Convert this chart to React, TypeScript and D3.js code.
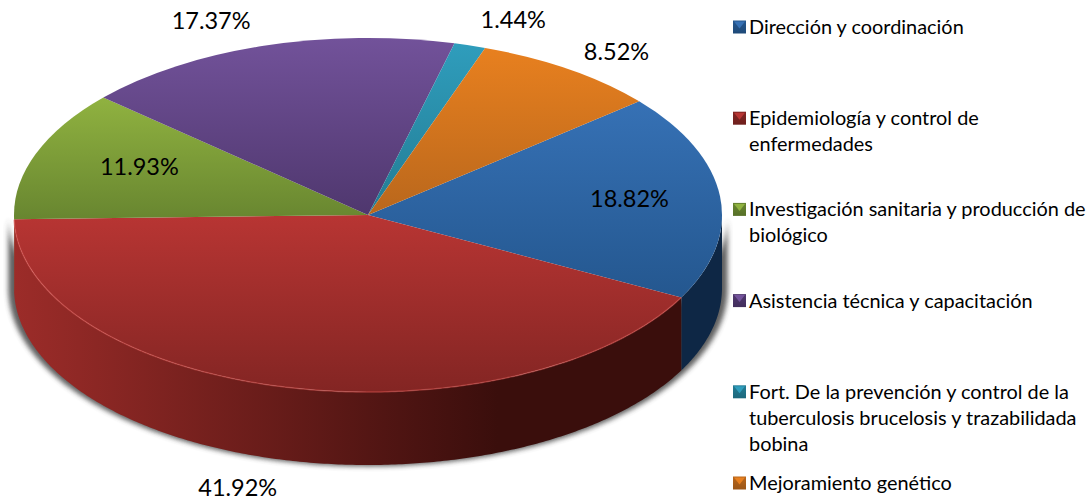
import React from 'react';
import * as d3 from 'd3';

const categories = [
  ['Dirección y coordinación'],
  ['Epidemiología y control de', 'enfermedades'],
  ['Investigación sanitaria y producción de', 'biológico'],
  ['Asistencia técnica y capacitación'],
  ['Fort. De la prevención y control de la', 'tuberculosis brucelosis y trazabilidada', 'bobina'],
  ['Mejoramiento genético'],
];
const values = [18.82, 41.92, 11.93, 17.37, 1.44, 8.52];

const topLight = ['#3671b5', '#b83533', '#90b240', '#72529a', '#2f9dbc', '#e8801f'];
const topDark = ['#24578f', '#832523', '#688630', '#4f376e', '#237c94', '#b9671c'];
const wallStops = [
  ['#0e2b4c', '#0e2745'],
  ['#9c2c29', '#3a0e0c'],
  ['#688630', '#688630'],
  ['#4f376e', '#4f376e'],
  ['#237c94', '#237c94'],
  ['#b9671c', '#b9671c'],
];

const width = 1091;
const height = 501;
const cx = 368;
const cy = 215;
const rx = 354;
const ry = 177;
const depth = 73;

// label placement relative to each slice's middle angle
const labelRadius = [0.74, 1.19, 0.7, 1.15, 1.15, 1.12];
const labelNudge = [[1, -2], [-34, 68], [4, -6], [-37, 0], [28, 0], [23, 0]];

const rad = (d: number) => (d * Math.PI) / 180;
const px = (a: number) => cx + rx * Math.sin(a);
const py = (a: number) => cy - ry * Math.cos(a);

const pie = d3.pie<number>().sort(null).startAngle(rad(50)).endAngle(rad(410));
const slices = pie(values);
const arc = d3.arc<d3.PieArcDatum<number>>().innerRadius(0).outerRadius(rx);

// outer wall of a slice, only the part on the front half of the pie
const wallArea = d3.area<number>().x(px).y0(py).y1((a) => py(a) + depth);
function wallPath(start: number, end: number) {
  const pieces: string[] = [];
  for (const shift of [0, Math.PI * 2]) {
    const a0 = Math.max(start, Math.PI / 2 + shift);
    const a1 = Math.min(end, (Math.PI * 3) / 2 + shift);
    if (a1 > a0) {
      const steps = d3.range(a0, a1, 0.01).concat(a1);
      pieces.push(wallArea(steps) as string);
    }
  }
  return pieces.join('');
}

const rimLine = d3.line<number>().x(px).y(py);

const legendY = d3.scalePoint<number>().domain(d3.range(categories.length)).range([27, 483]);
const fmt = d3.format('.2f');
const fontFamily = 'Lato, Carlito, "Open Sans", sans-serif';

export default function App() {
  return (
    <svg width={width} height={height} style={{ position: 'absolute', left: 0, top: 0, background: '#fff' }} fontFamily={fontFamily}>
      <defs>
        <filter id="soft" x="-5%" y="-5%" width="110%" height="110%">
          <feGaussianBlur stdDeviation="2.5" />
        </filter>
        {slices.map((s, i) => (
          <linearGradient key={i} id={`top${i}`} x1="0" y1="0" x2="0" y2="1">
            <stop offset="0" stopColor={topLight[i]} />
            <stop offset="1" stopColor={topDark[i]} />
          </linearGradient>
        ))}
        {slices.map((s, i) => (
          <linearGradient key={i} id={`wall${i}`} gradientUnits="userSpaceOnUse" x1={cx - rx} y1="0" x2={cx + 130} y2="0">
            <stop offset="0" stopColor={wallStops[i][0]} />
            <stop offset="1" stopColor={wallStops[i][1]} />
          </linearGradient>
        ))}
        {categories.map((c, i) => (
          <linearGradient key={i} id={`key${i}`} x1="0" y1="0" x2="0" y2="1">
            <stop offset="0" stopColor={topDark[i]} />
            <stop offset="1" stopColor={d3.color(topDark[i])!.darker(0.5).formatHex()} />
          </linearGradient>
        ))}
      </defs>

      {/* soft shadow behind the disc */}
      <path
        d={wallArea(d3.range(Math.PI / 2, (Math.PI * 3) / 2, 0.01)) as string}
        fill="#444"
        opacity={0.85}
        filter="url(#soft)"
        transform={`translate(${cx},${cy + 20}) scale(1.016,1.006) translate(${-cx},${-cy - 20})`}
      />

      {slices.map((s, i) => (
        <path key={i} d={wallPath(s.startAngle, s.endAngle)} fill={`url(#wall${i})`} />
      ))}

      <g transform={`translate(${cx},${cy}) scale(1,${ry / rx})`}>
        {slices.map((s, i) => (
          <path key={i} d={arc(s) as string} fill={`url(#top${i})`} />
        ))}
      </g>

      {/* lit rim along the front of the big slice */}
      <path
        d={rimLine(d3.range(slices[1].startAngle, slices[1].endAngle, 0.01)) as string}
        fill="none"
        stroke="#d9544f"
        strokeOpacity={0.5}
        strokeWidth={1.5}
      />

      {slices.map((s, i) => {
        const mid = (s.startAngle + s.endAngle) / 2;
        const r = labelRadius[i];
        const x = cx + rx * r * Math.sin(mid) + labelNudge[i][0];
        const y = cy - ry * r * Math.cos(mid) + labelNudge[i][1];
        return (
          <text key={i} x={x} y={y} dy="0.35em" textAnchor="middle" fontSize={23.5} fill="#000">
            {fmt(s.data)}%
          </text>
        );
      })}

      {categories.map((lines, i) => {
        const y = legendY(i) as number;
        return (
          <g key={i} transform={`translate(733,${y})`}>
            <rect x={0} y={-6.5} width={13} height={13} fill={`url(#key${i})`} />
            <path d="M1,-5.5L12,-5.5L6.5,1.5Z" fill={topLight[i]} />
            {lines.map((line, j) => (
              <text key={j} x={16} y={j * 26} dy="0.35em" fontSize={19.9} fill="#000">
                {line}
              </text>
            ))}
          </g>
        );
      })}
    </svg>
  );
}
